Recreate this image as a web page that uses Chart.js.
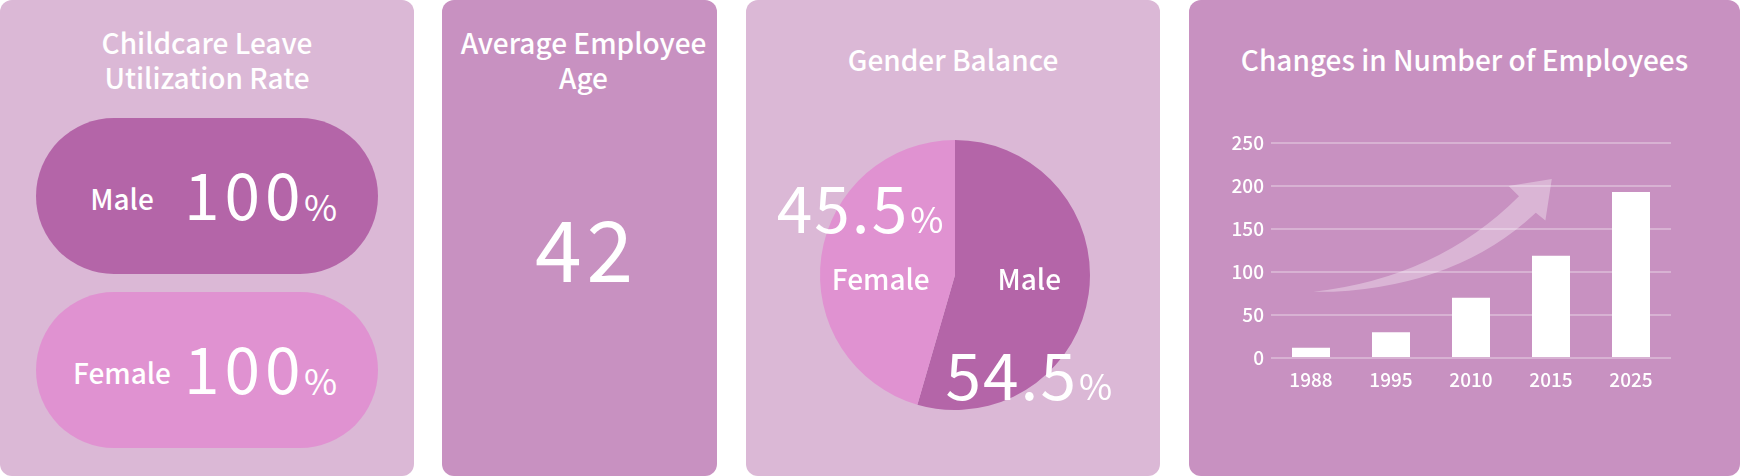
<!DOCTYPE html>
<html>
<head>
<meta charset="utf-8">
<script src="https://cdn.jsdelivr.net/npm/chart.js@4.4.1/dist/chart.umd.min.js"></script>
<style>
  html, body { margin: 0; padding: 0; background: #ffffff; }
  body { width: 1740px; height: 476px; position: relative; overflow: hidden;
         font-family: 'Noto Sans CJK JP', 'Noto Sans', sans-serif; color: #ffffff; }
  .panel { position: absolute; top: 0; height: 476px; border-radius: 12px; }
  .light { background: #dbb8d6; }
  .medium { background: #c891c1; }
  .title { position: absolute; left: 0; right: 0; text-align: center;
           font-size: 28px; font-weight: 500; line-height: 35px; white-space: nowrap; }
  .pill { position: absolute; left: 36px; width: 342px; height: 156px; border-radius: 78px; }
  .txt { position: absolute; line-height: 1; white-space: nowrap; }
  canvas { position: absolute; }
</style>
</head>
<body>
<div class="panel light" style="left:0;width:414px;">
  <div class="title" style="top:25px;">Childcare Leave<br>Utilization Rate</div>
  <div class="pill" id="pillMale" style="top:118px;background:#b465a8;"></div>
  <div class="pill" id="pillFemale" style="top:292px;background:#e092d1;"></div>
</div>
<div class="panel medium" style="left:442px;width:275px;">
  <div class="title" style="top:25px;left:8px;">Average Employee<br>Age</div>
  <div class="txt" id="ageValue" style="left:7px;width:275px;text-align:center;top:204px;font-size:84px;letter-spacing:5px;"></div>
</div>
<div class="panel light" style="left:746px;width:414px;">
  <div class="title" style="top:42px;">Gender Balance</div>
</div>
<div class="panel medium" style="left:1189px;width:551px;">
  <div class="title" style="top:42px;">Changes in Number of Employees</div>
</div>
<canvas id="genderChart" style="left:748px;top:140px;width:414px;height:270px;" width="414" height="270"></canvas>
<canvas id="employeeChart" style="left:1189px;top:113px;width:551px;height:285px;" width="551" height="285"></canvas>

<script>
// childcare leave utilization (%)
const leaveCategories = ['Male', 'Female'];
const leaveRates = [100, 100];

// average employee age
const averageAge = 42;

// gender balance (%)
const genderLabels = ['Male', 'Female'];
const genderShares = [54.5, 45.5];
const genderColors = ['#b465a8', '#e092d1'];

// number of employees
const years = ['1988', '1995', '2010', '2015', '2025'];
const employeeCounts = [12, 30, 70, 119, 193];
const yTicks = [0, 50, 100, 150, 200, 250];

// trend arrow, in (category index, value) units
const arrowPath = [
    [0.03, 77], [1.58, 93], [2.60, 188], [2.47, 200], [3.01, 208],
    [2.93, 160], [2.81, 169], [1.85, 85], [0.28, 77]
];

Chart.defaults.font.family = "'Noto Sans CJK JP', 'Noto Sans', sans-serif";
Chart.defaults.color = '#ffffff';

// pills in panel 1
const pillIds = ['pillMale', 'pillFemale'];
leaveCategories.forEach((cat, i) => {
    const pill = document.getElementById(pillIds[i]);
    const label = document.createElement('div');
    label.className = 'txt';
    label.style.cssText = 'left:31px;width:110px;text-align:center;top:66px;font-size:28px;font-weight:500;';
    label.textContent = cat;
    const num = document.createElement('div');
    num.className = 'txt';
    num.style.cssText = 'left:148px;top:42px;font-size:64px;letter-spacing:5px;';
    num.textContent = leaveRates[i];
    const pct = document.createElement('div');
    pct.className = 'txt';
    pct.style.cssText = 'left:268px;top:69px;font-size:36px;';
    pct.textContent = '%';
    pill.append(label, num, pct);
});

document.getElementById('ageValue').textContent = averageAge;

// pie labels
const pieLabels = {
    id: 'pieLabels',
    afterDatasetsDraw(chart) {
        const ctx = chart.ctx;
        const arcs = chart.getDatasetMeta(0).data;
        const cx = arcs[0].x, cy = arcs[0].y, r = arcs[0].outerRadius;
        const namePos = [[0.55, 0.11], [-0.55, 0.11]];
        const valuePos = [[-0.07, 0.926], [-1.32, -0.31]];
        ctx.save();
        ctx.fillStyle = '#ffffff';
        genderLabels.forEach((name, i) => {
            ctx.font = "500 28px 'Noto Sans CJK JP'";
            ctx.textAlign = 'center';
            ctx.textBaseline = 'alphabetic';
            ctx.letterSpacing = '0px';
            ctx.fillText(name, cx + namePos[i][0] * r, cy + namePos[i][1] * r);

            const x = cx + valuePos[i][0] * r;
            const y = cy + valuePos[i][1] * r;
            ctx.textAlign = 'left';
            ctx.font = "400 64px 'Noto Sans CJK JP'";
            ctx.letterSpacing = '2px';
            const s = String(genderShares[i]);
            ctx.fillText(s, x, y);
            const w = ctx.measureText(s).width;
            ctx.font = "400 36px 'Noto Sans CJK JP'";
            ctx.letterSpacing = '0px';
            ctx.fillText('%', x + w + 1, y);
        });
        ctx.restore();
    }
};

new Chart(document.getElementById('genderChart'), {
    type: 'pie',
    data: {
        labels: genderLabels,
        datasets: [{
            data: genderShares,
            backgroundColor: genderColors,
            borderWidth: 0
        }]
    },
    options: {
        responsive: false,
        animation: false,
        layout: { padding: 0 },
        plugins: { legend: { display: false }, tooltip: { enabled: false } }
    },
    plugins: [pieLabels]
});

// trend arrow behind the bars
const trendArrow = {
    id: 'trendArrow',
    beforeDatasetsDraw(chart) {
        const { ctx, scales: { x, y } } = chart;
        const step = x.getPixelForValue(1) - x.getPixelForValue(0);
        const px = arrowPath.map(([i, v]) => [x.getPixelForValue(0) + i * step, y.getPixelForValue(v)]);
        ctx.save();
        ctx.fillStyle = 'rgba(255,255,255,0.33)';
        ctx.beginPath();
        ctx.moveTo(px[0][0], px[0][1]);
        ctx.quadraticCurveTo(px[1][0], px[1][1], px[2][0], px[2][1]);
        ctx.lineTo(px[3][0], px[3][1]);
        ctx.lineTo(px[4][0], px[4][1]);
        ctx.lineTo(px[5][0], px[5][1]);
        ctx.lineTo(px[6][0], px[6][1]);
        ctx.quadraticCurveTo(px[7][0], px[7][1], px[8][0], px[8][1]);
        ctx.closePath();
        ctx.fill();
        ctx.restore();
    }
};

new Chart(document.getElementById('employeeChart'), {
    type: 'bar',
    data: {
        labels: years,
        datasets: [{
            data: employeeCounts,
            backgroundColor: '#ffffff',
            borderWidth: 0,
            barPercentage: 1,
            categoryPercentage: 0.475
        }]
    },
    options: {
        responsive: false,
        animation: false,
        layout: { padding: { top: 30, right: 69, bottom: 0, left: 0 } },
        plugins: { legend: { display: false }, tooltip: { enabled: false } },
        scales: {
            x: {
                grid: { display: false, drawTicks: false },
                border: { display: false },
                ticks: { color: '#ffffff', font: { size: 19, weight: 500 }, padding: 10 },
                afterFit(scale) { scale.height = 40; }
            },
            y: {
                min: 0,
                max: 250,
                afterBuildTicks(scale) { scale.ticks = yTicks.map(v => ({ value: v })); },
                grid: { color: 'rgba(255,255,255,0.3)', lineWidth: 2, drawTicks: false },
                border: { display: false },
                ticks: { color: '#ffffff', font: { size: 19, weight: 500 }, padding: 7 },
                afterFit(scale) { scale.width = 82; }
            }
        }
    },
    plugins: [trendArrow]
});
</script>
</body>
</html>
